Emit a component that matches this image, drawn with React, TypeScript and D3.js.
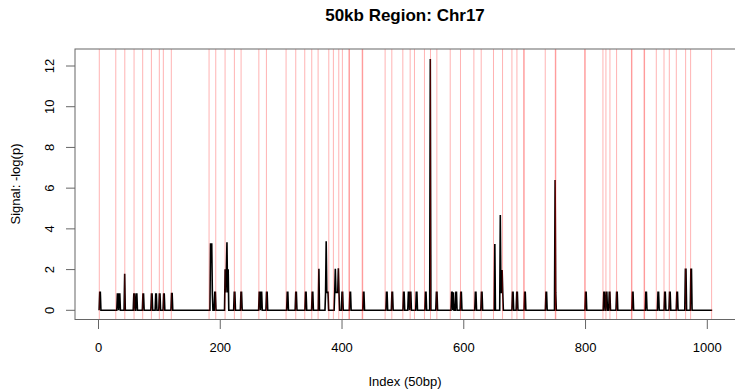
import React from "react";
import * as d3 from "d3";

const N = 1008;
const peakIdx = [
  2, 3, 31, 32, 34, 35, 43, 58, 59, 62, 63, 73, 74, 87, 88, 94, 95, 100, 101, 107, 108, 120, 121,
  184, 185, 186, 187, 191, 192, 208, 209, 210, 211, 212, 213, 223, 224, 234, 235,
  264, 265, 267, 268, 276, 277, 310, 311, 324, 325, 340, 341, 351, 352, 362,
  373, 374, 375, 376, 377, 388, 389, 390, 391, 392, 393, 394, 395, 400, 401, 413, 414,
  435, 436, 473, 474, 482, 483, 501, 502, 509, 510, 512, 513, 522, 523, 537, 538, 545,
  555, 556, 580, 581, 583, 587, 588, 595, 596, 619, 620, 629, 630, 651,
  660, 661, 662, 663, 664, 680, 681, 687, 688, 700, 701, 735, 736, 750, 751,
  800, 801, 830, 831, 834, 835, 839, 840, 851, 852, 877, 878, 899, 900, 919, 920,
  930, 931, 938, 939, 950, 951, 964, 965, 973, 974,
];
const peakVal = [
  0.88, 0.88, 0.8, 0.8, 0.8, 0.8, 1.8, 0.8, 0.8, 0.8, 0.8, 0.8, 0.8, 0.8, 0.8, 0.8, 0.8, 0.8, 0.8, 0.8, 0.8, 0.82, 0.82,
  3.26, 3.26, 3.26, 0.85, 0.88, 0.88, 2.02, 0.88, 2.02, 3.34, 0.88, 2.02, 0.88, 0.88, 0.88, 0.88,
  0.88, 0.88, 0.88, 0.88, 0.88, 0.88, 0.88, 0.88, 0.88, 0.88, 0.88, 0.88, 0.88, 0.88, 2.04,
  0.88, 3.39, 0.88, 0.88, 0.88, 0.88, 2.04, 0.88, 0.88, 0.88, 0.88, 2.07, 0.88, 0.88, 0.88, 0.88, 0.88,
  0.88, 0.88, 0.88, 0.88, 0.88, 0.88, 0.88, 0.88, 0.88, 0.88, 0.88, 0.88, 0.88, 0.88, 0.88, 0.88, 12.34,
  0.88, 0.88, 0.88, 0.88, 0.88, 0.88, 0.88, 0.88, 0.88, 0.88, 0.88, 0.88, 0.88, 3.26,
  4.68, 0.88, 0.88, 1.98, 0.88, 0.88, 0.88, 0.88, 0.88, 0.88, 0.88, 0.88, 0.88, 6.4, 0.88,
  0.88, 0.88, 0.88, 0.88, 0.88, 0.88, 0.88, 0.88, 0.88, 0.88, 0.88, 0.88, 0.88, 0.88, 0.88, 0.88,
  0.88, 0.88, 0.88, 0.88, 0.88, 0.88, 2.01, 2.01, 2.01, 2.01,
];
const redLines = [
  1.3, 28.4, 43.2, 58.4, 72.6, 86.9, 99.9, 106.5, 119.6, 181.6, 192.6, 207.9, 223.2, 234.2, 263.4,
  275.8, 308.1, 324, 338.8, 350.3, 360.7, 378.3, 385.8, 394.7, 400.6, 411.3, 412.2, 433.1, 434,
  470.8, 481.8, 499.9, 511.9, 519, 535.4, 545.3, 555.8,
  577.7, 594.6, 616.6, 628.6, 648.8, 663.7, 679.1, 687.3, 698.4, 699.3, 733.8, 750.3, 751.2,
  798.6, 799.5, 828.6, 833.5, 840.1, 851, 875.4, 876.3, 896.1, 897,
  916.2, 928.9, 937.6, 949.1, 964.4, 972.6, 1007.1,
];
const xTicks = [0, 200, 400, 600, 800, 1000];
const yTicks = [0, 2, 4, 6, 8, 10, 12];

const FONT = "'Liberation Sans', Arial, Helvetica, sans-serif";

export default function App() {
  const W = 735, H = 390;
  const left = 75, top = 49, bottom = 319.5, right = 740;
  const x = d3.scaleLinear().domain([0, 1000]).range([98.5, 707.3]);
  const y = d3.scaleLinear().domain([0, 12]).range([310.3, 66]);

  const signal: number[] = new Array(N).fill(0);
  peakIdx.forEach((p, k) => { signal[p - 1] = peakVal[k]; });
  const pts = signal.map((v, i) => [i + 1, v] as [number, number]);
  const line = d3.line<[number, number]>().x((d) => x(d[0])).y((d) => y(d[1]));

  return (
    <svg width={W} height={H} style={{ position: "fixed", left: 0, top: 0, background: "#fff" }}>
      <rect x={0} y={0} width={W} height={H} fill="#fff" />
      <defs>
        <clipPath id="plotclip">
          <rect x={left} y={top} width={right - left} height={bottom - top} />
        </clipPath>
      </defs>
      <path d={line(pts) || ""} fill="none" stroke="#000" strokeWidth={1.6} strokeLinejoin="miter" />
      <g clipPath="url(#plotclip)">
        {redLines.map((r, i) => (
          <line key={i} x1={x(r)} x2={x(r)} y1={top} y2={bottom} stroke="rgba(255,0,0,0.3)" strokeWidth={1} />
        ))}
      </g>
      <rect x={left} y={top} width={right - left} height={bottom - top} fill="none" stroke="#666" strokeWidth={1} />
      <line x1={x(0)} x2={x(1000)} y1={bottom} y2={bottom} stroke="#666" />
      {xTicks.map((t) => (
        <g key={t}>
          <line x1={x(t)} x2={x(t)} y1={bottom} y2={bottom + 9.5} stroke="#666" />
          <text x={x(t)} y={352} textAnchor="middle" fontFamily={FONT} fontSize={13} fill="#000">{t}</text>
        </g>
      ))}
      {yTicks.map((t) => (
        <g key={t}>
          <line x1={left - 9} x2={left} y1={y(t)} y2={y(t)} stroke="#666" />
          <text transform={`translate(${54},${y(t)}) rotate(-90)`} textAnchor="middle" fontFamily={FONT} fontSize={13} fill="#000">{t}</text>
        </g>
      ))}
      <text x={405} y={21} textAnchor="middle" fontFamily={FONT} fontSize={17} fontWeight="bold" fill="#000">50kb Region: Chr17</text>
      <text x={405} y={386} textAnchor="middle" fontFamily={FONT} fontSize={13} fill="#000">Index (50bp)</text>
      <text transform={`translate(${20},${184}) rotate(-90)`} textAnchor="middle" fontFamily={FONT} fontSize={13} fill="#000">Signal: -log(p)</text>
    </svg>
  );
}
